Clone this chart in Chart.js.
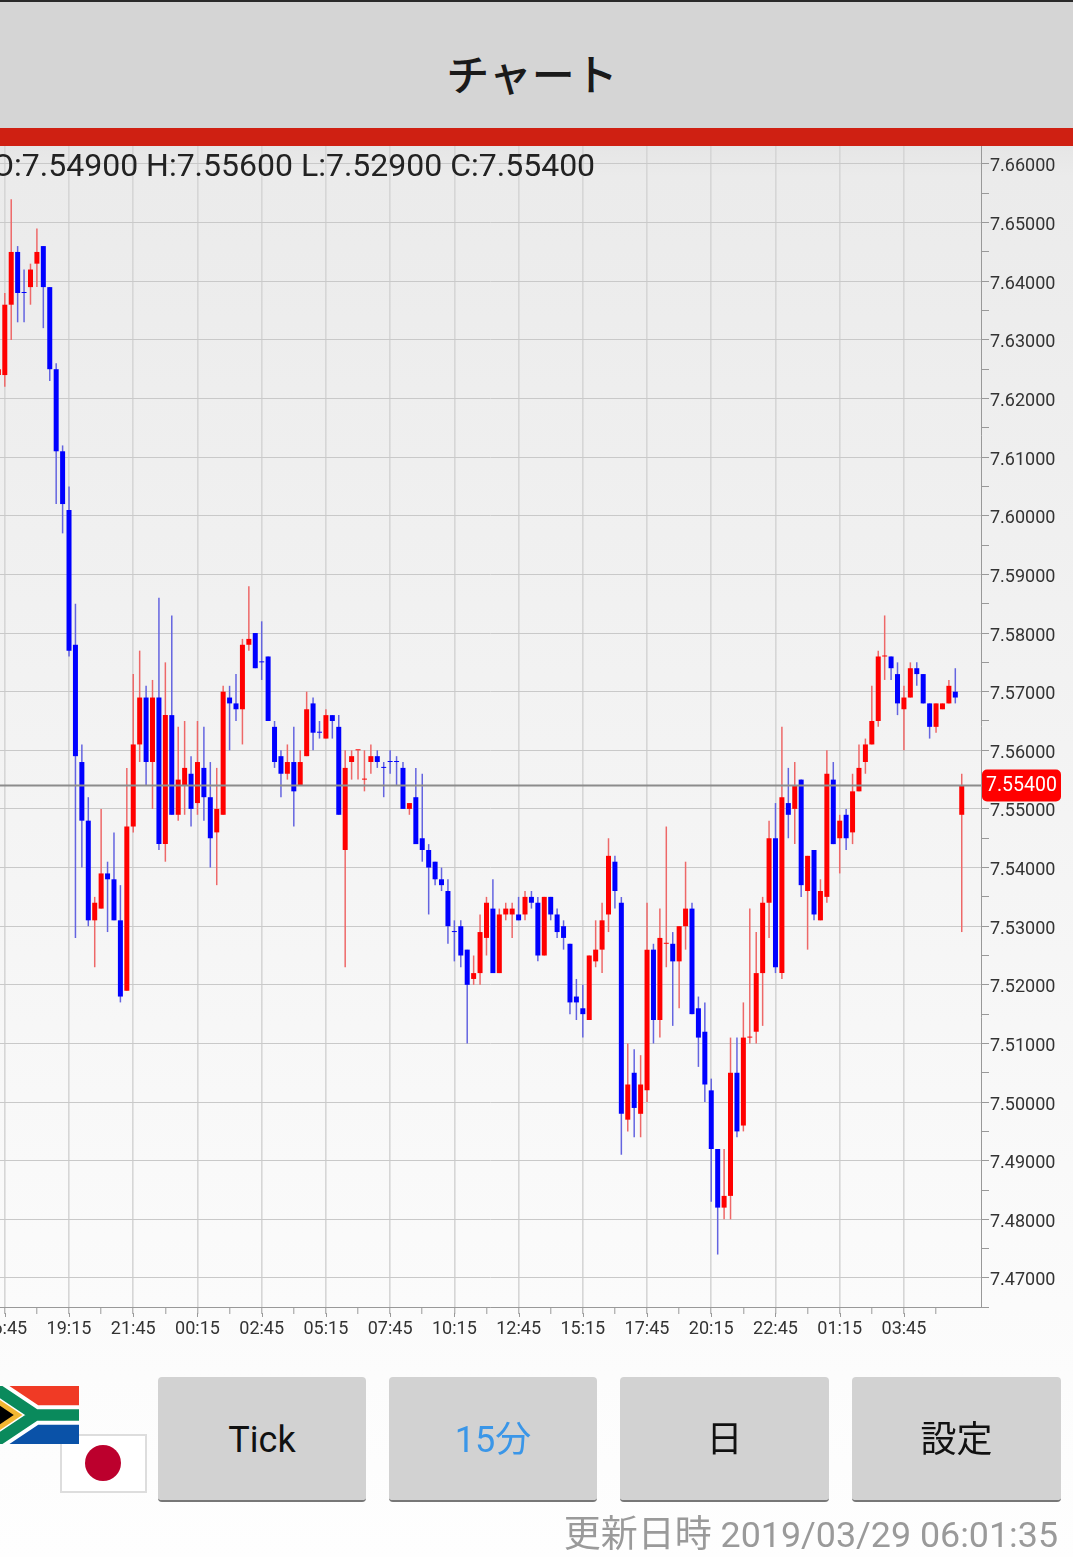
<!DOCTYPE html>
<html lang="ja"><head><meta charset="utf-8">
<script src="https://cdn.jsdelivr.net/npm/chart.js@4/dist/chart.umd.min.js"></script>
<style>
html,body{margin:0;padding:0;width:1073px;height:1557px;overflow:hidden;background:#fff;font-family:Roboto,"Noto Sans CJK JP",sans-serif}
#bg{position:absolute;left:0;top:146px;width:1073px;height:1411px;background:linear-gradient(#e6e6e6 0,#ebebeb 30px,#f3f3f3 600px,#fcfcfc 1230px,#fefefe 1411px)}
#hdr{position:absolute;left:0;top:0;width:1073px;height:128px;background:#d5d5d5;border-top:2px solid #2a2a2a;box-sizing:border-box}
#ttl{position:absolute;left:0;top:0;width:1064px;height:146px;text-align:center;font:500 43px/144px "Noto Sans CJK JP";color:#1a1a1a}
#bar{position:absolute;left:0;top:128px;width:1073px;height:18px;background:#cf2012}
#c{position:absolute;left:0;top:0}
#ohlc{position:absolute;left:-8px;top:146px;font:32px/38px Roboto;color:#222;white-space:nowrap}
.b{position:absolute;top:1377px;height:125px;background:#d2d2d2;border-radius:4px;border-bottom:2px solid #777;box-sizing:border-box;text-align:center;font:36px/127px Roboto,"Noto Sans CJK JP";color:#111}
#upd{position:absolute;right:15px;top:1514px;font:35.8px/42px Roboto,"Noto Sans CJK JP";color:#9a9a9a;white-space:nowrap}
#upd span{font-size:37px}
svg{position:absolute}
</style></head><body>
<div id="bg"></div>
<canvas id="c" width="1073" height="1557"></canvas>
<div id="hdr"></div><div id="ttl">チャート</div><div id="bar"></div>
<div id="ohlc">O:7.54900 H:7.55600 L:7.52900 C:7.55400</div>
<svg style="left:60px;top:1434px" width="87" height="59"><rect x="1" y="1" width="85" height="57" fill="#fff" stroke="#ddd" stroke-width="2"/><circle cx="43" cy="29" r="18" fill="#bc002d"/></svg>
<svg style="left:-8px;top:1386px" width="87" height="58" viewBox="0 0 900 600"><rect width="900" height="300" fill="#f03a25"/><rect y="300" width="900" height="300" fill="#0a52a8"/><path d="M0,0 L450,300 H900 M0,600 L450,300" fill="none" stroke="#fff" stroke-width="200"/><path d="M0,0 L450,300 H900 M0,600 L450,300" fill="none" stroke="#0a8a5c" stroke-width="120"/><path d="M0,90 L315,300 L0,510 Z" fill="#f2b632"/><path d="M0,150 L225,300 L0,450 Z" fill="#000"/></svg>
<div class="b" style="left:158px;width:208px">Tick</div>
<div class="b" style="left:389px;width:208px;color:#3a96e8">15分</div>
<div class="b" style="left:620px;width:209px">日</div>
<div class="b" style="left:852px;width:209px">設定</div>
<div id="upd"><span>更新日時</span> 2019/03/29 06:01:35</div>
<script>
const timeLabels = ["16:45","19:15","21:45","00:15","02:45","05:15","07:45","10:15","12:45","15:15","17:45","20:15","22:45","01:15","03:45"];
const opens = [7.624,7.624,7.636,7.645,7.638,7.639,7.643,7.646,7.639,7.625,7.611,7.601,7.578,7.558,7.548,7.531,7.533,7.539,7.538,7.531,7.519,7.547,7.561,7.569,7.558,7.569,7.544,7.566,7.549,7.554,7.556,7.551,7.557,7.552,7.546,7.549,7.569,7.568,7.567,7.578,7.58,7.575,7.576,7.564,7.559,7.556,7.558,7.554,7.559,7.568,7.563,7.562,7.566,7.564,7.543,7.558,7.56,7.555,7.558,7.559,7.557,7.558,7.558,7.557,7.55,7.552,7.545,7.543,7.541,7.538,7.536,7.529,7.53,7.526,7.521,7.522,7.528,7.533,7.522,7.532,7.532,7.532,7.532,7.535,7.534,7.525,7.535,7.532,7.53,7.527,7.518,7.516,7.514,7.524,7.526,7.532,7.541,7.534,7.497,7.505,7.498,7.502,7.526,7.514,7.527,7.527,7.524,7.53,7.533,7.516,7.512,7.502,7.492,7.482,7.484,7.505,7.496,7.511,7.512,7.522,7.534,7.545,7.522,7.551,7.55,7.555,7.536,7.543,7.531,7.535,7.555,7.545,7.549,7.546,7.553,7.558,7.561,7.565,7.576,7.576,7.573,7.567,7.569,7.574,7.573,7.568,7.564,7.567,7.568,7.57,7.549];
const highs = [7.625,7.638,7.654,7.646,7.642,7.643,7.649,7.646,7.639,7.626,7.612,7.605,7.585,7.561,7.552,7.535,7.55,7.541,7.546,7.537,7.557,7.573,7.577,7.571,7.572,7.586,7.575,7.583,7.564,7.565,7.559,7.565,7.564,7.558,7.557,7.571,7.571,7.573,7.579,7.588,7.58,7.582,7.576,7.565,7.56,7.561,7.564,7.56,7.57,7.569,7.565,7.567,7.566,7.566,7.56,7.56,7.56,7.56,7.561,7.56,7.558,7.56,7.559,7.558,7.551,7.557,7.556,7.544,7.541,7.54,7.538,7.531,7.531,7.526,7.525,7.532,7.535,7.538,7.533,7.534,7.534,7.535,7.536,7.536,7.535,7.535,7.535,7.533,7.531,7.527,7.521,7.52,7.525,7.531,7.534,7.545,7.542,7.535,7.51,7.509,7.508,7.534,7.527,7.533,7.547,7.529,7.53,7.541,7.534,7.518,7.517,7.504,7.492,7.492,7.511,7.511,7.517,7.533,7.529,7.535,7.548,7.551,7.564,7.557,7.558,7.555,7.542,7.543,7.538,7.56,7.558,7.549,7.55,7.556,7.561,7.562,7.571,7.577,7.583,7.576,7.575,7.571,7.575,7.575,7.573,7.568,7.568,7.568,7.572,7.574,7.556];
const lows = [7.624,7.622,7.63,7.633,7.633,7.636,7.639,7.632,7.623,7.602,7.597,7.576,7.528,7.54,7.53,7.523,7.533,7.529,7.531,7.517,7.519,7.546,7.558,7.554,7.55,7.543,7.541,7.549,7.548,7.549,7.547,7.549,7.548,7.54,7.537,7.549,7.56,7.565,7.561,7.577,7.574,7.572,7.565,7.557,7.552,7.555,7.547,7.554,7.559,7.56,7.562,7.562,7.562,7.549,7.523,7.555,7.555,7.553,7.556,7.557,7.552,7.556,7.554,7.55,7.549,7.544,7.541,7.532,7.537,7.536,7.527,7.524,7.523,7.51,7.52,7.52,7.525,7.522,7.522,7.531,7.528,7.531,7.531,7.533,7.524,7.525,7.531,7.528,7.526,7.515,7.514,7.511,7.514,7.523,7.522,7.529,7.533,7.491,7.495,7.494,7.494,7.5,7.51,7.511,7.523,7.513,7.516,7.526,7.515,7.506,7.5,7.483,7.474,7.48,7.48,7.494,7.495,7.51,7.51,7.513,7.528,7.522,7.521,7.545,7.544,7.535,7.526,7.531,7.531,7.534,7.544,7.539,7.543,7.544,7.553,7.556,7.561,7.564,7.572,7.572,7.566,7.56,7.569,7.571,7.568,7.562,7.563,7.567,7.568,7.568,7.529];
const closes = [7.625,7.636,7.645,7.638,7.638,7.642,7.645,7.639,7.625,7.611,7.602,7.577,7.559,7.548,7.531,7.534,7.539,7.538,7.531,7.518,7.547,7.561,7.569,7.558,7.569,7.544,7.566,7.549,7.555,7.557,7.55,7.558,7.552,7.545,7.55,7.57,7.568,7.567,7.578,7.579,7.574,7.575,7.565,7.558,7.556,7.558,7.553,7.558,7.567,7.563,7.563,7.566,7.565,7.549,7.557,7.559,7.56,7.555,7.559,7.558,7.557,7.558,7.558,7.55,7.551,7.544,7.543,7.54,7.538,7.537,7.53,7.529,7.525,7.52,7.522,7.529,7.534,7.522,7.532,7.533,7.533,7.531,7.535,7.534,7.525,7.535,7.532,7.529,7.528,7.517,7.517,7.515,7.525,7.526,7.531,7.542,7.536,7.498,7.503,7.499,7.503,7.526,7.514,7.528,7.527,7.524,7.53,7.533,7.515,7.511,7.503,7.492,7.482,7.484,7.505,7.495,7.511,7.511,7.522,7.534,7.545,7.523,7.552,7.549,7.554,7.537,7.542,7.532,7.536,7.556,7.544,7.548,7.545,7.553,7.557,7.561,7.565,7.576,7.576,7.574,7.568,7.569,7.574,7.573,7.568,7.564,7.568,7.568,7.571,7.569,7.554];
const blueDojiIndexes = [4,41,50,60,61,62,71];
const yTickValues = [7.465,7.47,7.475,7.48,7.485,7.49,7.495,7.5,7.505,7.51,7.515,7.52,7.525,7.53,7.535,7.54,7.545,7.55,7.555,7.56,7.565,7.57,7.575,7.58,7.585,7.59,7.595,7.6,7.605,7.61,7.615,7.62,7.625,7.63,7.635,7.64,7.645,7.65,7.655,7.66];
const xTickValues = [1,6,11,16,21,26,31,36,41,46,51,56,61,66,71,76,81,86,91,96,101,106,111,116,121,126,131,136,141,146];
const lastPrice = closes[closes.length-1];
const xMin = 0.253, xMax = 153, yMin = 7.46505, yMax = 7.66324;

const isBlue = i => closes[i]<opens[i] || (closes[i]===opens[i] && blueDojiIndexes.includes(i));
const bodyColors = opens.map((_,i)=>isBlue(i)?'#0000ff':'#ff0000');
const wickColors = opens.map((_,i)=>isBlue(i)?'#6464e0':'#ee6868');
const isTen = v => Math.round(v*1000)%10===0;
const isLabelled = v => (v-1)%10===0;

const extras = {
  id:'extras',
  afterDatasetsDraw(chart){
    const {ctx,scales:{x,y}} = chart;
    ctx.save();
    ctx.strokeStyle='#999';ctx.lineWidth=1;
    xTickValues.filter(isLabelled).forEach(v=>{
      const p=Math.round(x.getPixelForValue(v))+0.5;
      ctx.beginPath();ctx.moveTo(p,y.bottom+6);ctx.lineTo(p,y.bottom+10);ctx.stroke();
    });
    const py=y.getPixelForValue(lastPrice);
    ctx.fillStyle='#ff0000';
    ctx.beginPath();ctx.roundRect(982,py-16,79,32,5);ctx.fill();
    ctx.fillStyle='#fff';ctx.font='19.5px Roboto';ctx.textBaseline='middle';ctx.textAlign='left';
    ctx.fillText(lastPrice.toFixed(5),986,py+1);
    ctx.restore();
  }
};

new Chart(document.getElementById('c'),{
  data:{datasets:[
    {type:'line',data:[{x:xMin,y:lastPrice},{x:xMax,y:lastPrice}],borderColor:'#8c8c8c',borderWidth:2,pointRadius:0},
    {type:'bar',data:opens.map((o,i)=>({x:i,y:[o,closes[i]]})),backgroundColor:bodyColors,barThickness:5,grouped:false,minBarLength:1,inflateAmount:0},
    {type:'bar',data:lows.map((l,i)=>({x:i,y:[l,highs[i]]})),backgroundColor:wickColors,barThickness:1.5,grouped:false,inflateAmount:0}
  ]},
  options:{
    responsive:false,animation:false,
    layout:{padding:{top:145,left:0,right:0,bottom:0},autoPadding:false},
    plugins:{legend:{display:false},tooltip:{enabled:false}},
    scales:{
      x:{type:'linear',position:'bottom',offset:false,min:xMin,max:xMax,
        afterBuildTicks(s){s.ticks=xTickValues.map(v=>({value:v}));},
        afterFit(s){s.height=250;s.paddingLeft=0;s.paddingRight=0;},
        border:{display:true,color:'#999'},
        grid:{offset:false,color:c=>c.tick&&isLabelled(c.tick.value)?'#d6d6d6':'rgba(0,0,0,0)',lineWidth:1.6,tickColor:'#999',tickLength:7,tickWidth:1},
        ticks:{autoSkip:false,maxRotation:0,minRotation:0,padding:5,color:'#333',font:{family:'Roboto',size:18},
          callback:v=>isLabelled(v)?timeLabels[(v-1)/10]:''}
      },
      y:{type:'linear',position:'right',min:yMin,max:yMax,
        afterBuildTicks(s){s.ticks=yTickValues.map(v=>({value:v}));},
        afterFit(s){s.width=92;s.paddingTop=0;s.paddingBottom=0;},
        border:{display:true,color:'#999'},
        grid:{color:c=>c.tick&&isTen(c.tick.value)?'#c9c9c9':'rgba(0,0,0,0)',lineWidth:1,tickColor:'#999',tickLength:8},
        ticks:{autoSkip:false,padding:1,labelOffset:3,color:'#333',font:{family:'Roboto',size:18},
          callback:v=>isTen(v)?v.toFixed(5):''}
      }
    }
  },
  plugins:[extras]
});
</script>
</body></html>
